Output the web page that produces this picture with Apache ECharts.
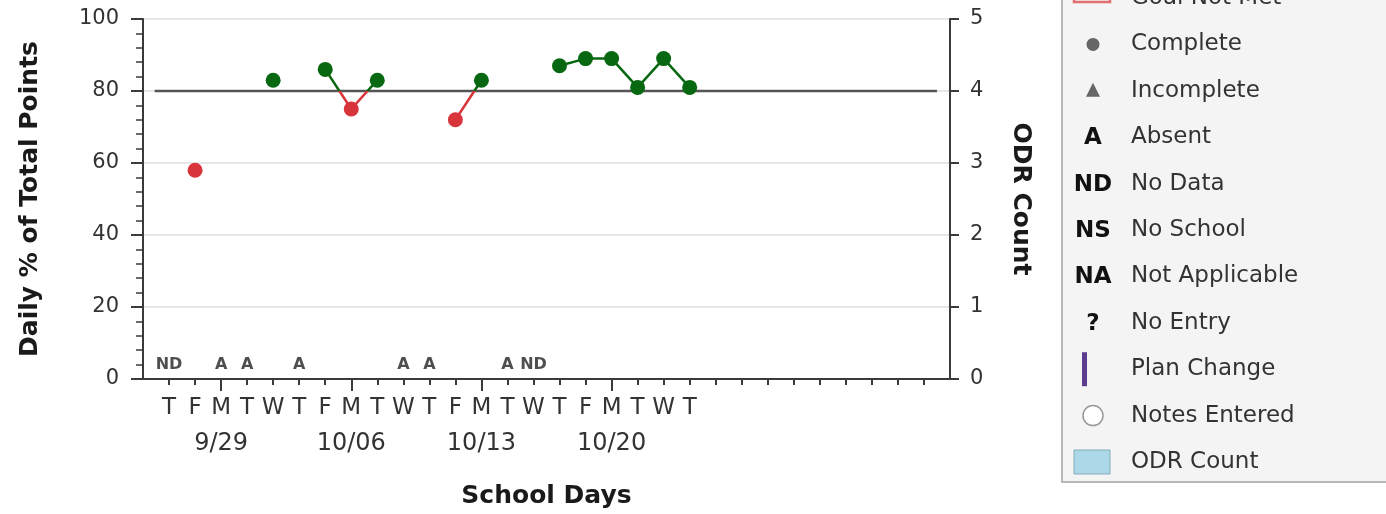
<!DOCTYPE html>
<html>
<head>
<meta charset="utf-8">
<script src="https://cdn.jsdelivr.net/npm/echarts@6/dist/echarts.min.js"></script>
<style>
html,body{margin:0;padding:0;background:#fff;}
#chart{width:1386px;height:514px;}
</style>
</head>
<body>
<div id="chart"></div>
<script>
// ---- data ----
const dayLabels = ['', 'T','F','M','T','W','T','F','M','T','W','T','F','M','T','W','T','F','M','T','W','T','','','','','','','','','',''];
const dateLabels = ['', '', '', '9/29', '', '', '', '', '10/06', '', '', '', '', '10/13', '', '', '', '', '10/20', '', '', '', '', '', '', '', '', '', '', '', '', ''];
const pctValues = [null, null, 58, null, null, 83, null, 86, 75, 83, null, null, 72, 83, null, null, 87, 89, 89, 81, 89, 81, null, null, null, null, null, null, null, null, null, null];
const statusCodes = ['', 'ND', '', 'A', 'A', '', 'A', '', '', '', 'A', 'A', '', '', 'A', 'ND', '', '', '', '', '', '', '', '', '', '', '', '', '', '', '', ''];
const odrCounts = [0,0,0,0,0,0,0,0,0,0,0,0,0,0,0,0,0,0,0,0,0,0,0,0,0,0,0,0,0,0,0,0];
const GOAL = 80;
const leftTicks = [0, 20, 40, 60, 80, 100];
const rightTicks = [0, 1, 2, 3, 4, 5];
const legendItems = [
  {icon: 'goal', label: 'Goal Not Met'},
  {icon: 'circle', label: 'Complete'},
  {icon: 'triangle', label: 'Incomplete'},
  {icon: 'A', label: 'Absent'},
  {icon: 'ND', label: 'No Data'},
  {icon: 'NS', label: 'No School'},
  {icon: 'NA', label: 'Not Applicable'},
  {icon: '?', label: 'No Entry'},
  {icon: 'bar', label: 'Plan Change'},
  {icon: 'ring', label: 'Notes Entered'},
  {icon: 'box', label: 'ODR Count'}
];

// ---- styles ----
const FONT = 'DejaVu Sans';
const GREEN = '#086812';
const RED = '#d8343c';
const AXIS = '#3a3a3a';
const LABEL = '#333';
const LAST = dayLabels.length - 1;

const chart = echarts.init(document.getElementById('chart'));

// legend graphic
const legendG = [];
legendG.push({type: 'rect', shape: {x: 1062, y: -10, width: 340, height: 492}, style: {fill: '#f4f4f4', stroke: '#b8b8b8', lineWidth: 2}});
const rowY0 = -2, rowStep = 46.4;
legendItems.forEach((it, k) => {
  const y = rowY0 + k * rowStep;
  const cx = 1093;
  if (it.icon === 'goal') {
    legendG.push({type: 'rect', shape: {x: 1074, y: y - 14, width: 36, height: 18}, style: {fill: 'none', stroke: '#e07070', lineWidth: 2.5}});
  } else if (it.icon === 'circle') {
    legendG.push({type: 'circle', shape: {cx: cx, cy: y, r: 6.5}, style: {fill: '#666'}});
  } else if (it.icon === 'triangle') {
    legendG.push({type: 'polygon', shape: {points: [[cx, y - 8], [cx + 7, y + 6], [cx - 7, y + 6]]}, style: {fill: '#666'}});
  } else if (it.icon === 'bar') {
    legendG.push({type: 'rect', shape: {x: 1082, y: y - 17, width: 5, height: 34}, style: {fill: '#5b3d8f'}});
  } else if (it.icon === 'ring') {
    legendG.push({type: 'circle', shape: {cx: cx, cy: y, r: 10}, style: {fill: '#fff', stroke: '#999', lineWidth: 1.5}});
  } else if (it.icon === 'box') {
    legendG.push({type: 'rect', shape: {x: 1074, y: y - 12, width: 36, height: 24}, style: {fill: '#acd9e8', stroke: '#8ab', lineWidth: 1}});
  } else {
    legendG.push({type: 'text', style: {text: it.icon, x: cx, y: y + 1, align: 'center', verticalAlign: 'middle', font: 'bold 23px "' + FONT + '"', fill: '#111'}});
  }
  legendG.push({type: 'text', style: {text: it.label, x: 1131, y: y, align: 'left', verticalAlign: 'middle', font: '23px "' + FONT + '"', fill: '#333'}});
});

const option = {
  animation: false,
  backgroundColor: '#fff',
  textStyle: {fontFamily: FONT},
  grid: {left: 143, right: 436, top: 19, bottom: 135, containLabel: false},
  visualMap: {
    show: false, type: 'piecewise', seriesIndex: 2, dimension: 1,
    pieces: [{gte: 0, lt: GOAL, color: RED}, {gte: GOAL, lte: 100, color: GREEN}]
  },
  xAxis: [
    {
      type: 'category', data: dayLabels, boundaryGap: false, position: 'bottom',
      axisLine: {onZero: false, lineStyle: {color: AXIS, width: 2}},
      axisTick: {show: true, length: 6, interval: (i) => i > 0 && i < LAST, lineStyle: {color: AXIS, width: 2}},
      axisLabel: {
        interval: 0, margin: 11, color: LABEL,
        formatter: (v, i) => dateLabels[i] ? '{d|' + v + '}\n{t|' + dateLabels[i] + '}' : '{d|' + v + '}',
        rich: {
          d: {fontSize: 23, lineHeight: 36, color: LABEL, fontFamily: FONT},
          t: {fontSize: 24, lineHeight: 36, color: LABEL, fontFamily: FONT}
        }
      },
      splitLine: {show: false},
      name: 'School Days', nameLocation: 'middle', nameGap: 105,
      nameTextStyle: {fontSize: 25, fontWeight: 'bold', color: '#1a1a1a', fontFamily: FONT}
    },
    {
      type: 'category', data: dayLabels, boundaryGap: false, position: 'bottom',
      axisLine: {show: false},
      axisTick: {show: true, length: 12, interval: (i) => dateLabels[i] !== '', lineStyle: {color: AXIS, width: 2}},
      axisLabel: {show: false}, splitLine: {show: false}
    },
    {type: 'value', min: 0, max: LAST, show: false}
  ],
  yAxis: [
    {
      type: 'value', min: leftTicks[0], max: leftTicks[leftTicks.length - 1], interval: 20, position: 'left',
      axisLine: {show: true, lineStyle: {color: AXIS, width: 2}},
      axisTick: {show: true, length: 12, lineStyle: {color: AXIS, width: 2}},
      minorTick: {show: true, splitNumber: 5, length: 7, lineStyle: {color: AXIS, width: 1.5}},
      splitLine: {show: true, lineStyle: {color: '#dedede', width: 1.5}},
      axisLabel: {fontSize: 21, color: LABEL, margin: 24, fontFamily: FONT},
      name: 'Daily % of Total Points', nameLocation: 'middle', nameGap: 100,
      nameTextStyle: {fontSize: 25, fontWeight: 'bold', color: '#1a1a1a', fontFamily: FONT}
    },
    {
      type: 'value', min: rightTicks[0], max: rightTicks[rightTicks.length - 1], interval: 1, position: 'right',
      axisLine: {show: true, lineStyle: {color: AXIS, width: 2}},
      axisTick: {show: true, length: 9, lineStyle: {color: AXIS, width: 2}},
      splitLine: {show: false},
      axisLabel: {fontSize: 21, color: LABEL, margin: 20, fontFamily: FONT},
      name: 'ODR Count', nameLocation: 'middle', nameGap: 58, nameRotate: -90,
      nameTextStyle: {fontSize: 25, fontWeight: 'bold', color: '#1a1a1a', fontFamily: FONT}
    }
  ],
  series: [
    {
      name: 'ODR Count', type: 'bar', xAxisIndex: 0, yAxisIndex: 1, data: odrCounts,
      barWidth: 14, itemStyle: {color: '#acd9e8'}, silent: true
    },
    {
      name: 'Goal', type: 'line', xAxisIndex: 2, yAxisIndex: 0,
      data: [[0.45, GOAL], [LAST - 0.5, GOAL]], symbol: 'none',
      lineStyle: {color: '#555', width: 2.5}, z: 1, silent: true
    },
    {
      name: 'Daily %', type: 'line', xAxisIndex: 0, yAxisIndex: 0, data: pctValues,
      connectNulls: false, symbol: 'circle', symbolSize: 15,
      lineStyle: {width: 2.5}, z: 5
    },
    {
      name: 'Status', type: 'scatter', xAxisIndex: 0, yAxisIndex: 0,
      data: statusCodes.map(s => s ? 0 : null),
      symbol: 'circle', symbolSize: 1, itemStyle: {color: 'rgba(0,0,0,0)'},
      label: {
        show: true, position: 'top', distance: 6,
        formatter: (p) => statusCodes[p.dataIndex],
        fontSize: 16, fontWeight: 'bold', color: '#222', fontFamily: FONT
      },
      silent: true, z: 4
    }
  ],
  graphic: legendG
};
chart.setOption(option);
</script>
</body>
</html>
